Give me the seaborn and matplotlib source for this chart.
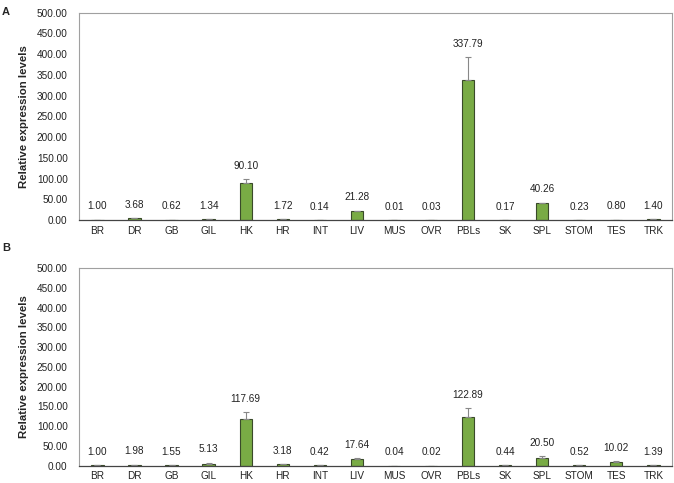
import matplotlib
matplotlib.use("Agg")
import matplotlib.pyplot as plt
import seaborn as sns
import pandas as pd

tissues = ["BR", "DR", "GB", "GIL", "HK", "HR", "INT", "LIV", "MUS", "OVR",
           "PBLs", "SK", "SPL", "STOM", "TES", "TRK"]
values_a = [1.00, 3.68, 0.62, 1.34, 90.10, 1.72, 0.14, 21.28, 0.01, 0.03,
            337.79, 0.17, 40.26, 0.23, 0.80, 1.40]
errors_a = [0.2, 0.8, 0.1, 0.3, 9.0, 0.4, 0.05, 1.2, 0.01, 0.01,
            55.0, 0.05, 1.5, 0.05, 0.2, 0.3]
values_b = [1.00, 1.98, 1.55, 5.13, 117.69, 3.18, 0.42, 17.64, 0.04, 0.02,
            122.89, 0.44, 20.50, 0.52, 10.02, 1.39]
errors_b = [0.2, 0.4, 0.3, 2.0, 18.0, 0.6, 0.1, 1.0, 0.01, 0.01,
            22.0, 0.1, 3.0, 0.1, 0.8, 0.3]
yticks = [0, 50, 100, 150, 200, 250, 300, 350, 400, 450, 500]

sns.set_theme(style="white")
plt.rcParams["font.family"] = ["Liberation Sans", "DejaVu Sans"]

fig = plt.figure(figsize=(6.74, 4.83), dpi=100)
ax_a = fig.add_axes([0.117, 0.5445, 0.880, 0.4295])
ax_b = fig.add_axes([0.117, 0.036, 0.880, 0.4085])

bar_color = "#79ab45"
for ax, vals, errs in [(ax_a, values_a, errors_a), (ax_b, values_b, errors_b)]:
    df = pd.DataFrame({"tissue": tissues, "value": vals})
    sns.barplot(data=df, x="tissue", y="value", color=bar_color, width=0.33,
                edgecolor="#3a4a2a", linewidth=0.8, saturation=1, ax=ax, errorbar=None)
    xs = list(range(len(tissues)))
    ax.errorbar(xs, vals, yerr=[[0] * len(errs), errs], fmt="none", ecolor="#888888",
                elinewidth=0.8, capsize=2, capthick=0.8)
    for x, v, e in zip(xs, vals, errs):
        ax.annotate(f"{v:.2f}", (x, v + e), xytext=(0, 6), textcoords="offset points",
                    ha="center", va="bottom", fontsize=7.2, color="#222222")
    ax.set_ylim(0, 500)
    ax.set_xlim(-0.5, len(tissues) - 0.5)
    ax.set_yticks(yticks)
    ax.set_yticklabels([f"{t:.2f}" for t in yticks])
    ax.set_xlabel("")
    ax.set_ylabel("Relative expression levels", fontsize=8.2, fontweight="bold", labelpad=6)
    ax.tick_params(axis="both", length=0, labelsize=7.2, colors="#222222")
    ax.tick_params(axis="y", pad=8)
    ax.tick_params(axis="x", pad=4)
    for s in ["top", "left", "right"]:
        ax.spines[s].set_color("#a0a0a0")
        ax.spines[s].set_linewidth(0.8)
    ax.spines["bottom"].set_color("#444444")
    ax.spines["bottom"].set_linewidth(0.9)

fig.text(0.003, 0.985, "A", fontsize=8, fontweight="bold", va="top")
fig.text(0.003, 0.497, "B", fontsize=8, fontweight="bold", va="top")

fig.savefig("out.png", dpi=100)
